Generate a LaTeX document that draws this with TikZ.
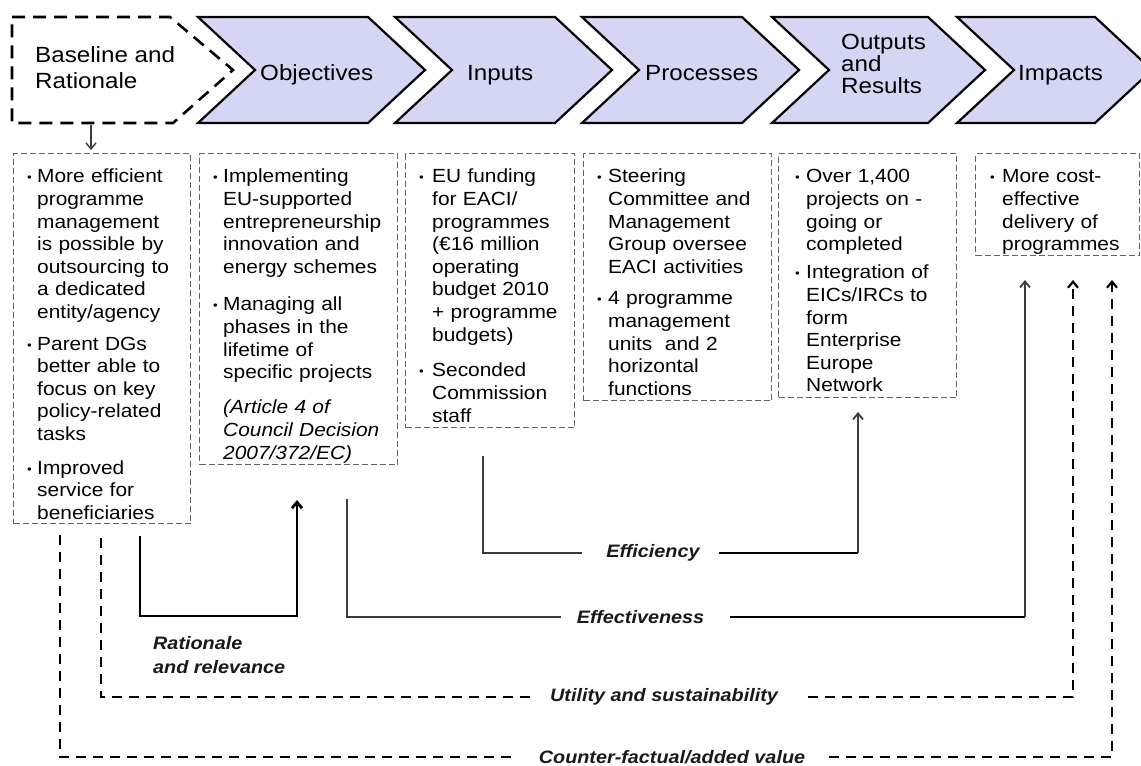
\documentclass[tikz,border=0pt]{standalone}
\usepackage{fontspec}
\setmainfont{Liberation Sans}[FakeStretch=1.1]
\usetikzlibrary{arrows.meta}
\definecolor{chevfill}{RGB}{213,214,243}
\definecolor{boxgray}{RGB}{100,100,100}
\definecolor{linegray}{RGB}{60,60,60}
\newcommand\chevfont{\fontsize{22}{26}\selectfont}
\newcommand\outfont{\fontsize{22}{22}\selectfont}
\newcommand\boxfont{\fontsize{19}{22.6}\selectfont}
\newcommand\labfont{\fontsize{18}{24}\selectfont\bfseries\itshape}
\newcommand\bulsym{{\fontsize{12}{12}\selectfont\raisebox{1pt}{•}}}
\newcommand\bpar[2][11pt]{\par\noindent\llap{\makebox[#1][l]{\bulsym}}#2}
\tikzset{
  chev/.style={draw=black, line width=2.2pt, fill=chevfill, line join=miter},
  basechev/.style={draw=black, line width=2.6pt, dash pattern=on 13pt off 8pt},
  databox/.style={draw=boxgray, line width=1.2pt, dash pattern=on 6pt off 3pt, anchor=north west, inner sep=0pt},
  txt/.style={anchor=north west, inner sep=0pt, text width=190pt, align=left, font=\boxfont},
  chevtxt/.style={inner sep=0pt, font=\chevfont, align=left},
  lab/.style={inner sep=0pt, font=\labfont, text=black!90},
  thickln/.style={line width=2.8pt, black},
  thinln/.style={line width=1.8pt, linegray},
  dashln/.style={line width=2.2pt, black, dash pattern=on 10pt off 7pt},
  arrowend/.style={-{Straight Barb[length=6pt,width=10pt]}},
}
\begin{document}
\begin{tikzpicture}[x=1pt,y=-1pt]
\useasboundingbox (0,0) rectangle (1141,766);
\fill[white] (0,0) rectangle (1141,766);
\clip (0,0) rectangle (1141,766);

% chevrons
\draw[basechev] (12,17) -- (170,17) -- (233,70) -- (173,123) -- (12,123) -- cycle;
\draw[chev] (198,17) -- (368,17) -- (425,70) -- (368,123) -- (198,123) -- (255,70) -- cycle;
\draw[chev] (395,17) -- (555,17) -- (612,70) -- (555,123) -- (395,123) -- (452,70) -- cycle;
\draw[chev] (582,17) -- (742,17) -- (799,70) -- (742,123) -- (582,123) -- (639,70) -- cycle;
\draw[chev] (772,17) -- (928,17) -- (985,70) -- (928,123) -- (772,123) -- (829,70) -- cycle;
\draw[chev] (957,17) -- (1095,17) -- (1152,70) -- (1095,123) -- (957,123) -- (1014,70) -- cycle;

\node[chevtxt, anchor=north west] (hbase) at (35,46) {Baseline and\\Rationale};
\node[chevtxt, anchor=base west] (hobj) at (260,80) {Objectives};
\node[chevtxt, anchor=base west] (hin) at (467,80) {Inputs};
\node[chevtxt, anchor=base west] (hproc) at (645,80) {Processes};
\node[chevtxt, font=\outfont, anchor=north west] (hout) at (841,34) {Outputs\\and\\Results};
\node[chevtxt, anchor=base west] (himp) at (1018,80) {Impacts};

% boxes
\node[databox, minimum width=177pt, minimum height=370pt] (b1) at (13,153) {};
\node[databox, minimum width=198pt, minimum height=311pt] (b2) at (199,153) {};
\node[databox, minimum width=169pt, minimum height=274pt] (b3) at (405,153) {};
\node[databox, minimum width=188pt, minimum height=247pt] (b4) at (583,153) {};
\node[databox, minimum width=178pt, minimum height=244pt] (b5) at (778,153) {};
\node[databox, minimum width=164pt, minimum height=102pt] (b6) at (975,153) {};

\node[txt] (t1) at (37,160) {%
\bpar[10pt]{More efficient\\programme\\management\\is possible by\\outsourcing to\\a dedicated\\entity/agency}\par\vspace{9pt}%
\bpar[10pt]{Parent DGs\\better able to\\focus on key\\policy-related\\tasks}\par\vspace{11pt}%
\bpar[10pt]{Improved\\service for\\beneficiaries}};

\node[txt] (t2) at (223,160) {%
\bpar[10pt]{Implementing\\EU-supported\\entrepreneurship\\innovation and\\energy schemes}\par\vspace{15pt}%
\bpar[10pt]{Managing all\\phases in the\\lifetime of\\specific projects}\par\vspace{12.6pt}%
\noindent{\itshape (Article 4 of\\Council Decision\\2007/372/EC)}};

\node[txt] (t3) at (432,160) {%
\bpar[13pt]{EU funding\\for EACI/\\programmes\\(€16 million\\operating\\budget 2010\\+ programme\\budgets)}\par\vspace{13.2pt}%
\bpar[13pt]{Seconded\\Commission\\staff}};

\node[txt] (t4) at (608,160) {%
\bpar{Steering\\Committee and\\Management\\Group oversee\\EACI activities}\par\vspace{9pt}%
\bpar{4 programme\\management\\units\ \ and 2\\horizontal\\functions}};

\node[txt] (t5) at (806,160) {%
\bpar{Over 1,400\\projects on -\\going or\\completed}\par\vspace{5.6pt}%
\bpar{Integration of\\EICs/IRCs to\\form\\Enterprise\\Europe\\Network}};

\node[txt] (t6) at (1002,160) {%
\bpar[12pt]{More cost-\\effective\\delivery of\\programmes}};

% labels
\node[lab] (fc) at (653,553) {Efficiency};
\node[lab] (efc) at (640.5,617) {Effectiveness};
\node[lab] (uc) at (664,697) {Utility and sustainability};
\node[lab] (cc) at (672,757) {Counter-factual/added value};
\node[lab, anchor=north west, align=left] (rr) at (153,636) {Rationale\\and relevance};

% coordinates
\coordinate (bb) at (91,125);
\coordinate (r0) at (140,536);
\coordinate (rc) at (297,616);
\coordinate (r1) at (297,500);
\coordinate (e0) at (347,499);
\coordinate (e1) at (1025,280);
\coordinate (f0) at (483,456);
\coordinate (f1) at (858,412);
\coordinate (u0) at (101,538);
\coordinate (u1) at (1073,280);
\coordinate (c0) at (60,535);
\coordinate (c1) at (1112,280);

% connectors
\draw[linegray, line width=1.4pt, arrowend, shorten >=3pt] (bb) -- (b1.north -| bb);
\draw[thickln, arrowend] (r0) |- (rc) -- (r1);

\draw[thinln] (e0) |- ([xshift=-16pt]efc.west);
\draw[thickln] ([xshift=26pt]efc.east) -- (efc.east -| e1);
\draw[thinln, arrowend] (efc.east -| e1) -- (e1);

\draw[thinln] (f0) |- ([xshift=-24pt]fc.west);
\draw[thickln] ([xshift=19pt]fc.east) -- (fc.east -| f1);
\draw[thinln, arrowend] (fc.east -| f1) -- (f1);

\draw[dashln] (u0) |- ([xshift=-20pt]uc.west);
\draw[dashln, arrowend] ([xshift=30pt]uc.east) -| (u1);

\draw[dashln] (c0) |- ([xshift=-26pt]cc.west);
\draw[dashln, arrowend] ([xshift=24pt]cc.east) -| (c1);
\end{tikzpicture}
\end{document}
